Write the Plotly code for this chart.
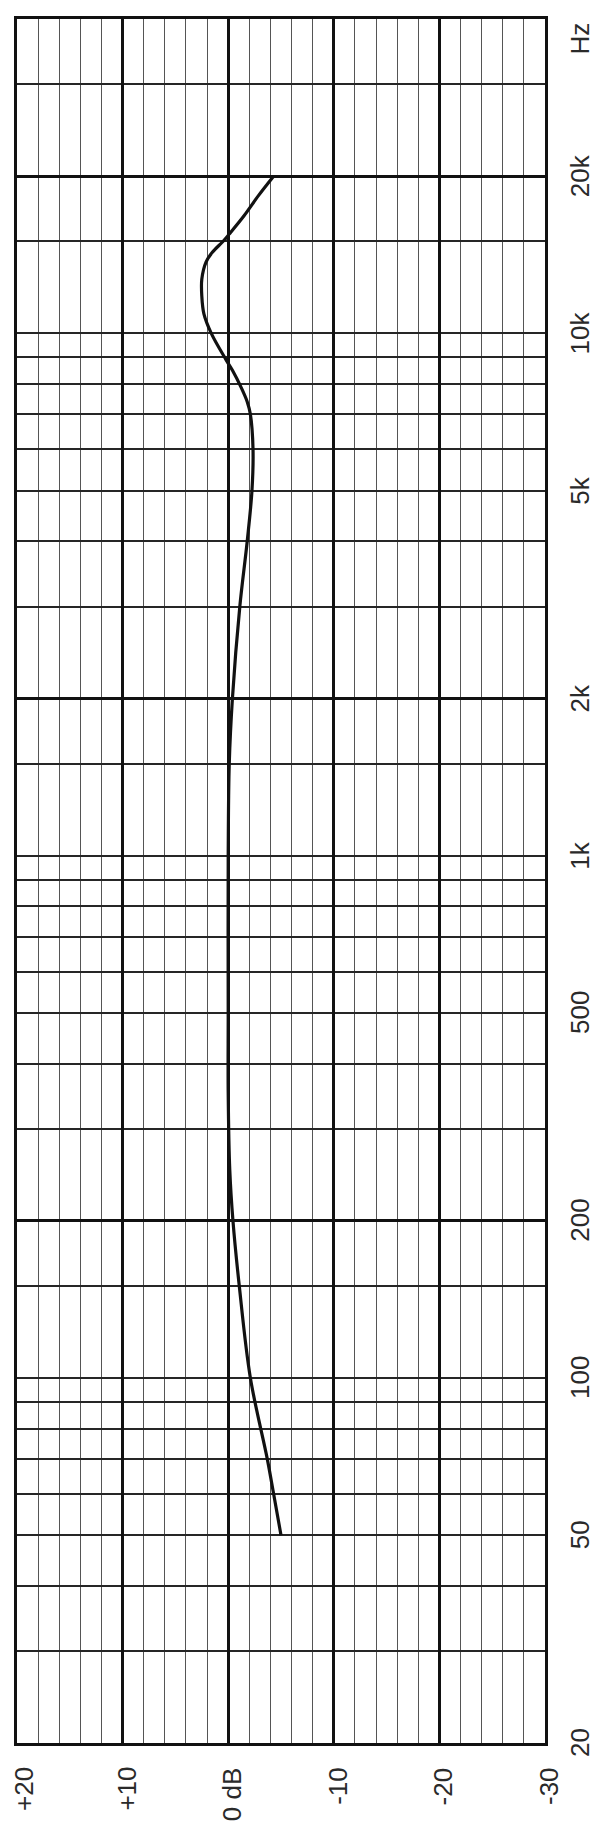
import math
import plotly.graph_objects as go

# Frequency response (Hz, dB)
freq_hz = [50, 60, 70, 100, 150, 200, 250, 350, 500, 1000, 1500, 2000, 3000, 4000,
           5000, 6000, 7000, 7400, 7900, 8500, 8900, 10000, 10900, 11800, 12700,
           13700, 14300, 15000, 15500, 16800, 18400, 20000]
level_db = [-5.0, -4.3, -3.7, -2.1, -1.05, -0.45, -0.15, 0.0, 0.0, 0.0, -0.1, -0.4, -1.1, -1.8,
            -2.25, -2.35, -2.1, -1.8, -1.2, -0.4, 0.2, 1.6, 2.3, 2.5, 2.5,
            2.1, 1.5, 0.5, -0.1, -1.5, -2.9, -4.3]

# Grid / tick definitions
freq_major = [20, 200, 2000, 20000]
freq_minor = [30, 40, 50, 60, 70, 80, 90, 100, 150, 300, 400, 500, 600, 700, 800, 900,
              1000, 1500, 3000, 4000, 5000, 6000, 7000, 8000, 9000, 10000, 15000, 30000]
freq_label_vals = [20, 50, 100, 200, 500, 1000, 2000, 5000, 10000, 20000]
freq_label_text = ["20", "50", "100", "200", "500", "1k", "2k", "5k", "10k", "20k"]
unit_label_freq = 36700
db_label_vals = [20, 10, 0, -10, -20, -30]
db_label_text = ["+20", "+10", "0 dB", "-10", "-20", "-30"]

FONT = "Liberation Sans, Arial, sans-serif"
TXT = "#2a2a2a"

fig = go.Figure()
fig.add_trace(go.Scatter(
    x=level_db, y=freq_hz, mode="lines",
    line=dict(color="#111111", width=3.2, shape="spline", smoothing=1.0),
    hoverinfo="skip", showlegend=False,
))

annotations = []
for v, t in zip(freq_label_vals, freq_label_text):
    annotations.append(dict(
        x=1, xref="paper", xshift=35, y=math.log10(v), yref="y",
        text=t, textangle=-90, showarrow=False, xanchor="center", yanchor="middle",
        font=dict(family=FONT, size=26, color=TXT),
    ))
annotations.append(dict(
    x=1, xref="paper", xshift=35, y=math.log10(unit_label_freq), yref="y",
    text="Hz", textangle=-90, showarrow=False, xanchor="center", yanchor="middle",
    font=dict(family=FONT, size=26, color=TXT),
))
for v, t in zip(db_label_vals, db_label_text):
    annotations.append(dict(
        x=v, xref="x", xshift=(7 if v == 20 else 4), y=0, yref="paper", yshift=-22,
        text=t, textangle=-90, showarrow=False, xanchor="center", yanchor="top",
        font=dict(family=FONT, size=26, color=TXT),
    ))

# page body adds an 8px margin, so the figure is sized/offset to compensate
fig.update_layout(
    width=590, height=1817,
    margin=dict(l=9, r=53, t=8, b=82),
    paper_bgcolor="white", plot_bgcolor="white",
    showlegend=False,
    annotations=annotations,
    xaxis=dict(
        range=[20, -30], showticklabels=False, ticks="",
        showgrid=True, tickmode="linear", tick0=0, dtick=10,
        gridcolor="#111111", gridwidth=3,
        minor=dict(showgrid=True, tickmode="linear", tick0=0, dtick=2,
                   gridcolor="#555555", gridwidth=1.4, ticks=""),
        zeroline=False, showline=True, mirror=True, linecolor="#111111", linewidth=3,
    ),
    yaxis=dict(
        type="log", range=[math.log10(20), math.log10(40000)],
        showticklabels=False, ticks="",
        tickmode="array", tickvals=freq_major,
        showgrid=True, gridcolor="#111111", gridwidth=3.2,
        minor=dict(showgrid=True, tickmode="array", tickvals=freq_minor,
                   gridcolor="#262626", gridwidth=1.8, ticks=""),
        zeroline=False, showline=True, mirror=True, linecolor="#111111", linewidth=3,
    ),
)

fig.write_html("out.html")
